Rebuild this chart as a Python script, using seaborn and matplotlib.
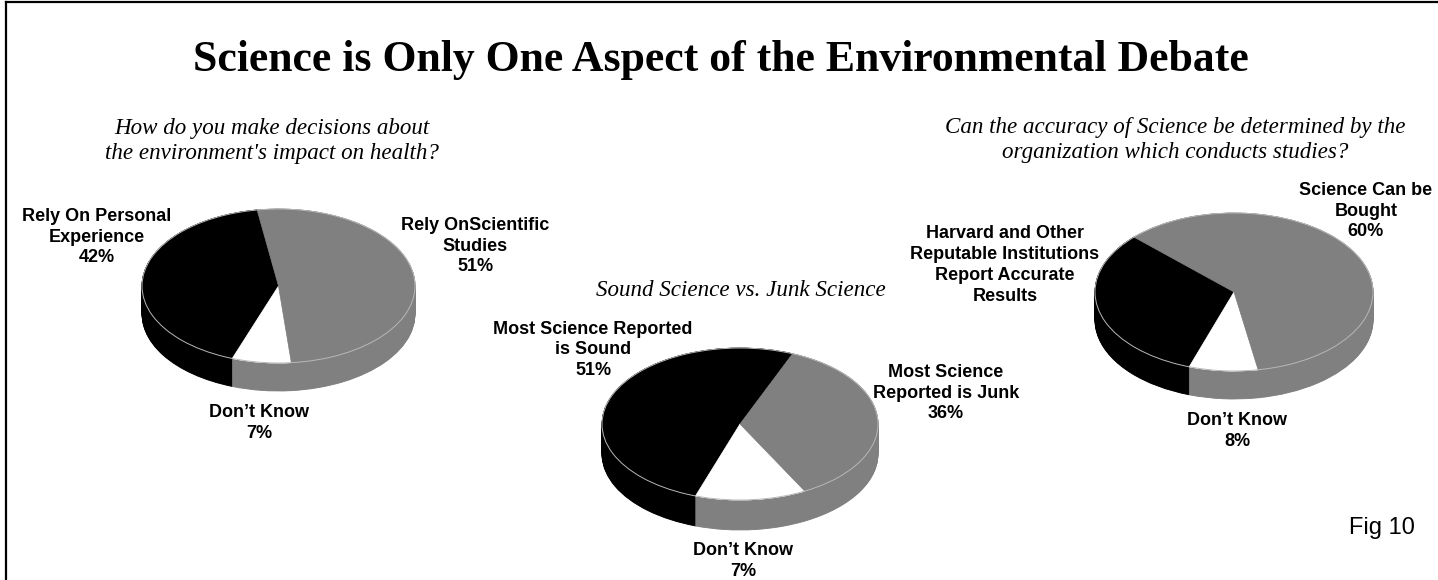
import matplotlib
matplotlib.use("Agg")
import matplotlib.pyplot as plt
import seaborn as sns

# ---------------- data ----------------
title = "Science is Only One Aspect of the Environmental Debate"

q1 = "How do you make decisions about\nthe environment's impact on health?"
p1_names = ["Rely On Personal\nExperience", "Don\u2019t Know", "Rely OnScientific\nStudies"]
p1_values = [42, 7, 51]
p1_show = [True, True, True]

q2 = "Sound Science vs. Junk Science"
p2_names = ["Most Science Reported\nis Sound", "Don\u2019t Know", "", "Most Science\nReported is Junk"]
p2_values = [51, 7, 6, 36]
p2_show = [True, True, False, True]

q3 = "Can the accuracy of Science be determined by the\norganization which conducts studies?"
p3_names = ["Harvard and Other\nReputable Institutions\nReport Accurate\nResults", "Don\u2019t Know", "Science Can be\nBought"]
p3_values = [32, 8, 60]
p3_show = [False, True, True]

fig_note = "Fig 10"

BLACK, WHITE, GRAY = "#000000", "#ffffff", "#808080"
top_colors = {1: [BLACK, WHITE, GRAY], 2: [BLACK, WHITE, WHITE, GRAY], 3: [BLACK, WHITE, GRAY]}
side_colors = {1: [BLACK, GRAY, GRAY], 2: [BLACK, GRAY, GRAY, GRAY], 3: [BLACK, GRAY, GRAY]}

# ---------------- figure ----------------
sns.set_theme(style="white")
plt.rcParams["font.family"] = ["Liberation Sans", "DejaVu Sans"]
plt.rcParams["text.color"] = "black"

W, H = 1438, 580
fig = plt.figure(figsize=(W / 100, H / 100), dpi=100)
fig.patch.set_facecolor("white")

# frame (left + top rule)
bg = fig.add_axes([6 / W, 0, 1 - 6 / W, 1 - 2 / H])
bg.set_xticks([]); bg.set_yticks([])
bg.patch.set_alpha(0)
for s in ["right", "bottom"]:
    bg.spines[s].set_visible(False)
for s in ["left", "top"]:
    bg.spines[s].set_color("black")
    bg.spines[s].set_linewidth(1.6)


def pie3d(cx, cy, a, b, depth_px, values, tcols, scols, start):
    d = depth_px / b
    L = 1.1
    left = (cx - L * a) / W
    bottom = (H - cy - (L + d) * b) / H
    ax = fig.add_axes([left, bottom, 2 * L * a / W, (2 * L + d) * b / H])
    n = 40
    for k in range(n, 0, -1):
        wedges, _ = ax.pie(values, colors=scols, startangle=start, counterclock=True,
                           center=(0, -d * k / n), radius=1,
                           wedgeprops=dict(linewidth=0.6))
        for w in wedges:
            w.set_edgecolor(w.get_facecolor())
    for _ in range(2):
        wedges, _ = ax.pie(values, colors=tcols, startangle=start, counterclock=True,
                           center=(0, 0), radius=1, wedgeprops=dict(linewidth=0.5))
        for w in wedges:
            w.set_edgecolor(w.get_facecolor())
    ax.pie([1], colors=["none"], center=(0, 0), radius=1,
           wedgeprops=dict(fill=False, edgecolor="#b8b8b8", linewidth=0.7))
    ax.set_aspect("auto")
    ax.set_xlim(-L, L)
    ax.set_ylim(-L - d, L)
    ax.axis("off")
    return ax


pie3d(278.5, 286, 136.5, 77, 28, p1_values, top_colors[1], side_colors[1], 99)
pie3d(740, 424, 138, 76, 30, p2_values, top_colors[2], side_colors[2], 67.6)
pie3d(1234, 292, 139, 79, 28, p3_values, top_colors[3], side_colors[3], 136)


def ftext(x, y, s, **kw):
    fig.text(x / W, 1 - y / H, s, **kw)


serif = ["Liberation Serif", "DejaVu Serif"]
ftext(721, 60, title, family=serif, fontweight="bold", fontsize=31.5,
      ha="center", va="center")

ftext(272, 141, q1, family=serif, style="italic", fontsize=16.6,
      ha="center", va="center", linespacing=1.27)
ftext(741, 290, q2, family=serif, style="italic", fontsize=16.6,
      ha="center", va="center")
ftext(1175, 140, q3, family=serif, style="italic", fontsize=16.6,
      ha="center", va="center", linespacing=1.27)


def lab(name, val, show):
    return f"{name}\n{val}%" if show else name


lbl_kw = dict(fontweight="bold", fontsize=13, ha="center", va="center",
              linespacing=1.29, color="black")

pos1 = [(97, 237), (259, 423), (475, 246)]
for nm, v, sh, (x, y) in zip(p1_names, p1_values, p1_show, pos1):
    ftext(x, y, lab(nm, v, sh), **lbl_kw)

pos2 = [(593, 350), (743, 561), None, (946, 393)]
for nm, v, sh, p in zip(p2_names, p2_values, p2_show, pos2):
    if p is None or nm == "":
        continue
    ftext(p[0], p[1], lab(nm, v, sh), **lbl_kw)

pos3 = [(1005, 265), (1237, 431), (1366, 211)]
for nm, v, sh, (x, y) in zip(p3_names, p3_values, p3_show, pos3):
    ftext(x, y, lab(nm, v, sh), **lbl_kw)

ftext(1382, 528, fig_note, fontsize=17, ha="center", va="center")

fig.savefig("out.png", dpi=100, facecolor="white")
